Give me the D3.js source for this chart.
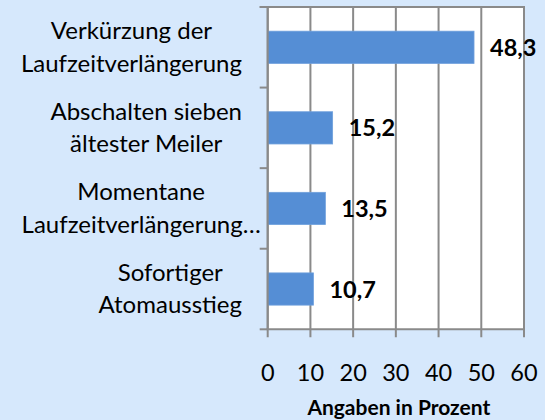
<!DOCTYPE html>
<html>
<head>
<meta charset="utf-8">
<script src="https://cdn.jsdelivr.net/npm/d3@7"></script>
<style>
  html, body { margin: 0; padding: 0; background: #d6e8fc; }
  svg { display: block; }
</style>
</head>
<body>
<div id="chart"></div>
<script>
// categories from top to bottom, lines split by "\n"
const categories = [
  "Verkürzung der\nLaufzeitverlängerung",
  "Abschalten sieben\nältester Meiler",
  "Momentane\nLaufzeitverlängerung…",
  "Sofortiger\nAtomausstieg"
];
const values = [48.3, 15.2, 13.5, 10.7];
const xTicks = [0, 10, 20, 30, 40, 50, 60];
const axisTitle = "Angaben in Prozent";

const W = 545, H = 420;
const plot = { l: 267.7, r: 524, t: 7, b: 329.3 };
const FONT = "Lato, 'Open Sans', sans-serif";
const gridColor = "#8a8a8a";

const svg = d3.select("#chart").append("svg")
  .attr("width", W)
  .attr("height", H);

svg.append("rect")
  .attr("width", W).attr("height", H)
  .attr("fill", "#d6e8fc");

const x = d3.scaleLinear().domain([0, 60]).range([plot.l, plot.r]);
const y = d3.scaleBand().domain(categories).range([plot.t, plot.b]).padding(0);

// plot area
svg.append("rect")
  .attr("x", plot.l).attr("y", plot.t)
  .attr("width", plot.r - plot.l).attr("height", plot.b - plot.t)
  .attr("fill", "#fff");

// vertical gridlines with ticks below the axis
svg.append("g")
  .selectAll("line")
  .data(xTicks)
  .join("line")
  .attr("x1", d => x(d)).attr("x2", d => x(d))
  .attr("y1", plot.t).attr("y2", plot.b + 8)
  .attr("stroke", gridColor)
  .attr("stroke-width", 2);

// top border
svg.append("line")
  .attr("x1", plot.l - 8).attr("x2", plot.r + 1)
  .attr("y1", plot.t).attr("y2", plot.t)
  .attr("stroke", gridColor).attr("stroke-width", 2);

// bars
const barH = y.bandwidth() * 0.4;
svg.append("g")
  .selectAll("rect")
  .data(values)
  .join("rect")
  .attr("x", x(0))
  .attr("y", (d, i) => y(categories[i]) + (y.bandwidth() - barH) / 2)
  .attr("width", d => x(d) - x(0))
  .attr("height", barH)
  .attr("fill", "#558ed5")
  .attr("stroke", "#6fa0dc")
  .attr("stroke-width", 0.8);

// value labels
const fmt = v => d3.format(".1f")(v).replace(".", ",");
svg.append("g")
  .selectAll("text")
  .data(values)
  .join("text")
  .attr("x", d => x(d) + 16)
  .attr("y", (d, i) => y(categories[i]) + y.bandwidth() / 2 + 8.5)
  .attr("font-family", FONT)
  .attr("font-size", 23.5)
  .attr("font-weight", 700)
  .attr("fill", "#000")
  .text(fmt);

// category axis line and ticks
svg.append("line")
  .attr("x1", plot.l).attr("x2", plot.l)
  .attr("y1", plot.t).attr("y2", plot.b)
  .attr("stroke", gridColor).attr("stroke-width", 2);

svg.append("line")
  .attr("x1", plot.l - 1).attr("x2", plot.r + 1)
  .attr("y1", plot.b).attr("y2", plot.b)
  .attr("stroke", gridColor).attr("stroke-width", 2);

svg.append("g")
  .selectAll("line")
  .data(d3.range(categories.length + 1))
  .join("line")
  .attr("x1", plot.l - 8).attr("x2", plot.l)
  .attr("y1", i => plot.t + i * y.bandwidth())
  .attr("y2", i => plot.t + i * y.bandwidth())
  .attr("stroke", gridColor).attr("stroke-width", 2);

// category labels: each block right-aligned, its lines centred
const lineGap = 32.4, capH = 16.5;
const labelRight = 242;
const gLab = svg.append("g")
  .attr("font-family", FONT)
  .attr("font-size", 24)
  .attr("fill", "#000");

categories.forEach(cat => {
  const lines = cat.split("\n");
  const cy = y(cat) + y.bandwidth() / 2;
  const block = gLab.append("g");
  const texts = lines.map((ln, j) => block.append("text")
    .attr("y", cy - (lines.length - 1) * lineGap / 2 + capH / 2 + j * lineGap)
    .attr("text-anchor", "middle")
    .text(ln));
  const maxW = d3.max(texts, t => t.node().getComputedTextLength());
  const right = cat.includes("…") ? plot.l - 7 : labelRight;
  texts.forEach(t => t.attr("x", right - maxW / 2));
});

// x tick labels
svg.append("g")
  .selectAll("text")
  .data(xTicks)
  .join("text")
  .attr("x", d => x(d))
  .attr("y", 381)
  .attr("text-anchor", "middle")
  .attr("font-family", FONT)
  .attr("font-size", 23.5)
  .attr("fill", "#000")
  .text(d => d);

svg.append("text")
  .attr("x", (plot.l + plot.r) / 2 + 3)
  .attr("y", 415)
  .attr("text-anchor", "middle")
  .attr("font-family", FONT)
  .attr("font-size", 21)
  .attr("font-weight", 700)
  .attr("fill", "#000")
  .text(axisTitle);
</script>
</body>
</html>
